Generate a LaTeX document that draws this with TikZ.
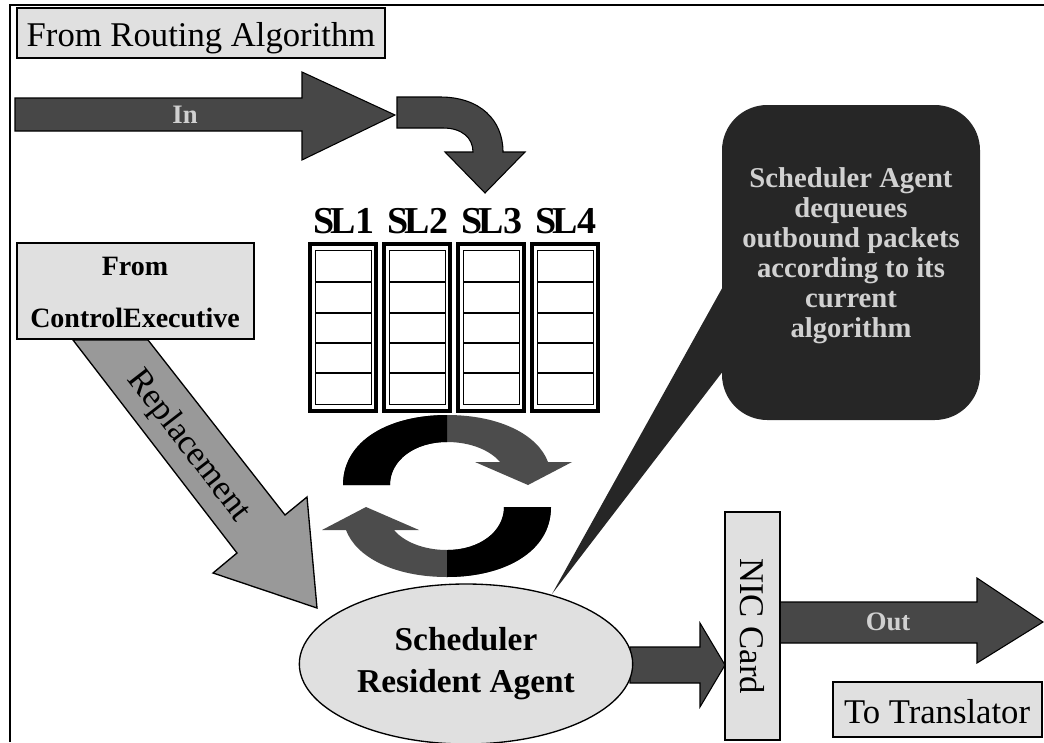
\documentclass[tikz,border=0pt]{standalone}
\usepackage{fontspec}
\setmainfont{Liberation Serif}
\usetikzlibrary{arrows,fit,positioning,shapes.geometric}
\newcommand{\setfs}[2]{\fontsize{#1}{#2}\selectfont}
\def\swirl{(343,485) .. controls (343,440) and (390,415) .. (447,415) .. controls (500,415) and (538,435) .. (548,462) -- (572,462) -- (528,485) -- (475,462) -- (500,462) .. controls (490,450) and (470,442) .. (447,442) .. controls (415,442) and (390,460) .. (390,485) -- cycle}

\begin{document}
\begin{tikzpicture}[x=0.75pt,y=-0.75pt,
  tag/.style={draw,line width=1.2pt,fill=black!12,inner sep=0pt},
  blk/.style={draw=black,line width=0.8pt,fill=black!72},
  emb/.style={text=black!18}]
\useasboundingbox (0,0) rectangle (1044,742);
\draw[line width=1.5pt] (10,742) -- (10,5) -- (1044,5);

\node[tag,fit={(17,8) (385,58)}] (route) {};
\node[anchor=base,font=\setfs{26}{30}] at (201,47) {From Routing Algorithm};
\fill[blk] (15,98) -- (302,98) -- (302,72) -- (395,115) -- (302,160) -- (302,131) -- (15,131) -- cycle;
\node[emb,font=\setfs{20}{24}\bfseries] (in) at (185,115) {In};
\fill[blk] (397,97) -- (440,97) .. controls (480,97) and (503,120) .. (503,152) -- (525,152) -- (485,193) -- (445,152) -- (473,152) .. controls (473,138) and (462,128) .. (443,128) -- (397,128) -- cycle;

\foreach \i in {1,...,4}{
  \pgfmathsetmacro\xa{236+74*\i}
  \draw[line width=2.6pt] (\xa,244) rectangle ++(66,167);
  \draw[line width=0.6pt] (\xa+5,250) rectangle ++(56,154);
  \foreach \yy in {282,313,343,373} \draw[line width=1.2pt] (\xa+5,\yy) -- ++(56,0);
  \node[font=\setfs{28.5}{30}\bfseries] (sl\i) at (\xa+34,221) {S\kern-.12emL\i};
}

\foreach \r in {0,180}{
  \begin{scope}[rotate around={\r:(447,496)}]
    \fill[black!70] \swirl;
    \clip (330,400) rectangle (447,500);
    \fill \swirl;
  \end{scope}}

\node[tag,fit={(17,243) (254,339)}] (ctrl) {};
\node[align=center,font=\setfs{21}{39}\bfseries] at (135,292) {From\\ControlExecutive};
\draw[line width=1pt,fill=black!40] (73,340) -- (237,553) -- (213,573) -- (317,608) -- (307,497) -- (285,515) -- (148,340) -- cycle;
\node[rotate=-52.3,font=\setfs{26}{30}] (repl) at (188,446) {Replacement};

\fill[black!85] (552,594) -- (740,256) -- (740,349) -- cycle;
\fill[black!85,rounded corners=34pt] (722,105) rectangle (980,420);
\node[emb,align=center,font=\setfs{21.5}{22.5}\bfseries] (note) at (851,256) {Scheduler Agent\\dequeues\\outbound packets\\according to its\\current\\algorithm};

\fill[blk] (630,647) -- (700,647) -- (700,623) -- (725,665) -- (700,707) -- (700,683) -- (630,683) -- cycle;
\node[ellipse,draw,line width=1pt,fill=black!12,minimum width=250pt,minimum height=120pt,align=center,font=\setfs{25}{31.5}\bfseries] (sra) at (466,664) {Scheduler\\Resident Agent};

\fill[blk] (780,602) -- (977,602) -- (977,578) -- (1043,622) -- (977,663) -- (977,643) -- (780,643) -- cycle;
\node[emb,font=\setfs{20}{24}\bfseries] (out) at (888,622) {Out};
\node[tag,fit={(725,512) (780,740)}] (nic) {};
\node[rotate=-90,font=\setfs{26}{30}] at (nic.center) {NIC Card};
\node[tag,fit={(833,682) (1042,737)}] (trans) {};
\node[anchor=base,font=\setfs{26}{30}] at (937,723) {To Translator};
\end{tikzpicture}
\end{document}
